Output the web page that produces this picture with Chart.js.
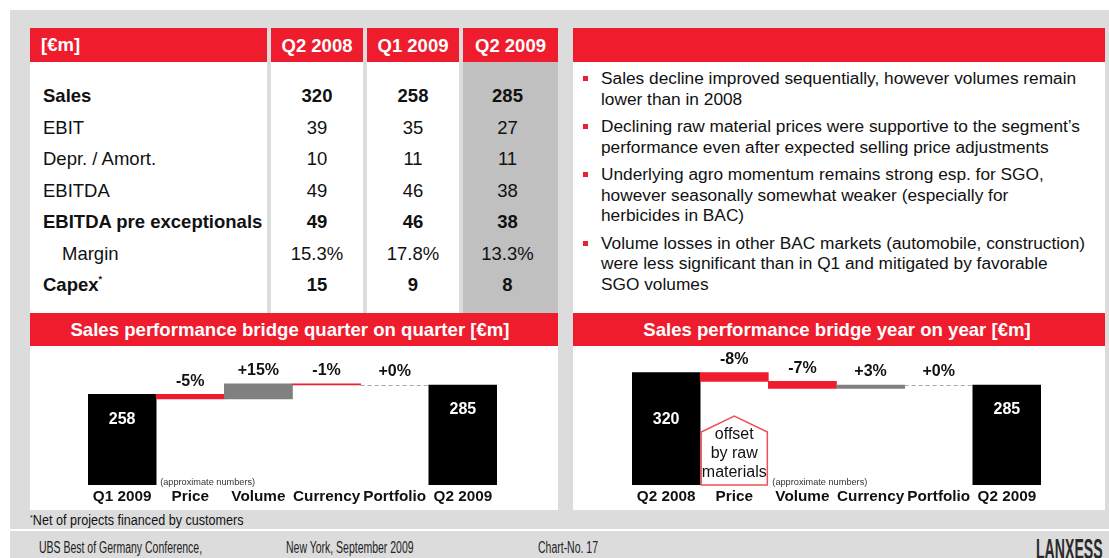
<!DOCTYPE html>
<html>
<head>
<meta charset="utf-8">
<script src="https://cdn.jsdelivr.net/npm/chart.js@4"></script>
<style>
  body { margin: 0; width: 1109px; height: 558px; position: relative; overflow: hidden;
         background: #fff; font-family: "Liberation Sans", Arial, sans-serif; color: #111; }
  .box { position: absolute; }
  .txt { position: absolute; white-space: nowrap; height: 30px; line-height: 30px; }
  canvas { position: absolute; }
</style>
</head>
<body>
<div class="box" style="left:10px;top:10px;width:1099px;height:548px;background:#dcdcdc"></div>
<div class="box" style="left:10px;top:529px;width:1099px;height:2px;background:#fff"></div>
<div id="slide"></div>
<canvas id="qoqChart" width="528" height="164" style="left:30px;top:346px"></canvas>
<canvas id="yoyChart" width="532" height="164" style="left:573px;top:346px"></canvas>

<script>
// ============================================================
// DATA
// ============================================================

const tableColumns = ["Q2 2008", "Q1 2009", "Q2 2009"];
const tableRows = ["Sales", "EBIT", "Depr. / Amort.", "EBITDA", "EBITDA pre exceptionals", "Margin", "Capex"];
const valuesQ2_2008 = ["320", "39", "10", "49", "49", "15.3%", "15"];
const valuesQ1_2009 = ["258", "35", "11", "46", "46", "17.8%", "9"];
const valuesQ2_2009 = ["285", "27", "11", "38", "38", "13.3%", "8"];

const bullets = [
  ["Sales decline improved sequentially, however volumes remain", "lower than in 2008"],
  ["Declining raw material prices were supportive to the segment’s", "performance even after expected selling price adjustments"],
  ["Underlying agro momentum remains strong esp. for SGO,", "however seasonally somewhat weaker (especially for", "herbicides in BAC)"],
  ["Volume losses in other BAC markets (automobile, construction)", "were less significant than in Q1 and mitigated by favorable", "SGO volumes"]
];

// quarter on quarter bridge [€m]
const qoqCategories = ["Q1 2009", "Price", "Volume", "Currency", "Portfolio", "Q2 2009"];
const qoqStart = 258;
const qoqSteps = [-13, 43, -3, 0];
const qoqEnd = 285;
const qoqStepLabels = ["-5%", "+15%", "-1%", "+0%"];

// year on year bridge [€m]
const yoyCategories = ["Q2 2008", "Price", "Volume", "Currency", "Portfolio", "Q2 2009"];
const yoyStart = 320;
const yoySteps = [-25, -20, 10, 0];
const yoyEnd = 285;
const yoyStepLabels = ["-8%", "-7%", "+3%", "+0%"];

const houseNote = ["offset", "by raw", "materials"];


// ============================================================
// SLIDE LAYOUT (table, text, footer)
// ============================================================

const RED = "#ee1c2d";
const FONT = "'Liberation Sans', Arial, sans-serif";
const slide = document.getElementById("slide");

function box(x, y, w, h, bg) {
  const d = document.createElement("div");
  d.className = "box";
  d.style.cssText = `left:${x}px;top:${y}px;width:${w}px;height:${h}px;background:${bg}`;
  slide.appendChild(d);
  return d;
}

function text(str, x, cy, opts = {}) {
  const d = document.createElement("div");
  d.className = "txt";
  d.innerHTML = str;
  d.style.top = (cy - 15) + "px";
  d.style.fontSize = (opts.size || 18.5) + "px";
  if (opts.bold) d.style.fontWeight = "bold";
  if (opts.color) d.style.color = opts.color;
  if (opts.center) {
    d.style.left = (x - 250) + "px";
    d.style.width = "500px";
    d.style.textAlign = "center";
  } else {
    d.style.left = x + "px";
  }
  if (opts.scaleX) {
    d.style.transform = `scaleX(${opts.scaleX})`;
    d.style.transformOrigin = "left center";
  }
  slide.appendChild(d);
  return d;
}

// table cells
const cols = [
  { x: 30, w: 237 },
  { x: 271, w: 92 },
  { x: 367, w: 92 },
  { x: 463, w: 95 }
];

cols.forEach((c, i) => {
  box(c.x, 28, c.w, 34, RED);
  box(c.x, 62, c.w, 251, i === 3 ? "#c0c0c0" : "#fff");
});

text("[€m]", 41, 45, { bold: true, color: "#fff" });
tableColumns.forEach((t, i) => {
  text(t, cols[i + 1].x + cols[i + 1].w / 2, 46, { bold: true, color: "#fff", center: true });
});

const boldRows = [0, 4, 6];
const columnValues = [valuesQ2_2008, valuesQ1_2009, valuesQ2_2009];

tableRows.forEach((label, r) => {
  const cy = 96 + r * 31.5;
  const bold = boldRows.includes(r);
  let lab = label;
  if (label === "Capex") lab = 'Capex<sup style="font-size:9px;vertical-align:9px;line-height:0">*</sup>';
  text(lab, label === "Margin" ? 62 : 43, cy, { bold });
  columnValues.forEach((vals, c) => {
    const col = cols[c + 1];
    text(vals[r], col.x + col.w / 2 - (c === 2 ? 3 : 0), cy, { bold, center: true });
  });
});

// right text panel
box(573, 28, 532, 34, RED);
box(573, 62, 532, 251, "#fff");

let lineY = 78;
bullets.forEach((lines) => {
  box(583, lineY - 2, 5, 5, "#e8202f");
  lines.forEach((ln) => {
    text(ln, 601, lineY, { size: 17.3 });
    lineY += 20.5;
  });
  lineY += 7;
});

// bridge panels
box(30, 313, 528, 33, RED);
box(30, 346, 528, 164, "#fff");
box(573, 313, 532, 33, RED);
box(573, 346, 532, 164, "#fff");
text("Sales performance bridge quarter on quarter [€m]", 290, 330, { bold: true, color: "#fff", center: true, size: 18.6 });
text("Sales performance bridge year on year [€m]", 837, 330, { bold: true, color: "#fff", center: true, size: 18.6 });

// footer
text('<sup style="font-size:8px;vertical-align:5px;line-height:0">*</sup>Net of projects financed by customers', 30, 520, { size: 14, scaleX: 0.9 });
text("UBS Best of Germany Conference,", 39, 548, { size: 16, color: "#222", scaleX: 0.655 });
text("New York, September 2009", 286, 548, { size: 16, color: "#222", scaleX: 0.655 });
text("Chart-No. 17", 538, 548, { size: 16, color: "#222", scaleX: 0.655 });
text("LANXESS", 1036, 549, { size: 30, bold: true, color: "#2a2a2a", scaleX: 0.47 });


// ============================================================
// BRIDGE CHARTS
// ============================================================

const bridgeTextPlugin = {
  id: "bridgeText",
  afterDatasetsDraw(chart, args, opts) {
    const ctx = chart.ctx;
    const meta = chart.getDatasetMeta(0);
    const xs = chart.scales.x;
    const ys = chart.scales.y;
    const zeroY = ys.getPixelForValue(0);
    const n = meta.data.length;

    ctx.save();
    ctx.textAlign = "center";
    ctx.textBaseline = "middle";

    // dashed connector for zero steps
    let run = opts.start;
    opts.steps.forEach((s, i) => {
      run += s;
      if (s === 0) {
        const el = meta.data[i + 1];
        const y = Math.round(ys.getPixelForValue(run)) + 0.5;
        ctx.strokeStyle = "#a8a8a8";
        ctx.lineWidth = 1;
        ctx.setLineDash([4, 3]);
        ctx.beginPath();
        ctx.moveTo(el.x - el.width / 2, y);
        ctx.lineTo(el.x + el.width / 2, y);
        ctx.stroke();
        ctx.setLineDash([]);
      }
    });

    meta.data.forEach((el, i) => {
      const top = Math.min(el.y, el.base);
      if (i === 0 || i === n - 1) {
        ctx.fillStyle = "#fff";
        ctx.font = "bold 16px " + FONT;
        const v = i === 0 ? opts.start : opts.end;
        ctx.fillText(String(v), el.x, top + opts.valueOffsets[i === 0 ? 0 : 1]);
      } else {
        ctx.fillStyle = "#111";
        ctx.font = "bold 16px " + FONT;
        ctx.fillText(opts.stepLabels[i - 1], el.x, top - 13);
      }
      // category label
      ctx.fillStyle = "#111";
      ctx.font = "bold 15.3px " + FONT;
      ctx.fillText(chart.data.labels[i], xs.getPixelForValue(i), zeroY + 12);
    });

    // house shaped note
    if (opts.houseIndex != null) {
      const el = meta.data[opts.houseIndex];
      const l = el.x - el.width / 2 + 1;
      const r = el.x + el.width / 2 - 1;
      ctx.strokeStyle = "#f0505a";
      ctx.lineWidth = 1.5;
      ctx.beginPath();
      ctx.moveTo(l, zeroY);
      ctx.lineTo(l, zeroY - 53);
      ctx.lineTo(el.x, zeroY - 69);
      ctx.lineTo(r, zeroY - 53);
      ctx.lineTo(r, zeroY);
      ctx.closePath();
      ctx.stroke();
      ctx.fillStyle = "#111";
      ctx.font = "16px " + FONT;
      opts.houseLines.forEach((t, k) => {
        ctx.fillText(t, el.x, zeroY - 50 + k * 19);
      });
    }

    // small note
    const nb = meta.data[opts.noteIndex];
    ctx.textAlign = "left";
    ctx.fillStyle = "#333";
    ctx.font = "9.2px " + FONT;
    ctx.fillText("(approximate numbers)", nb.x - nb.width / 2 + 4, zeroY - 3);

    ctx.restore();
  }
};

function bridgeChart(canvasId, cats, start, steps, end, stepLabels, extra) {
  const floats = [[0, start]];
  const colors = ["#000"];
  let run = start;
  steps.forEach((s) => {
    floats.push(s < 0 ? [run + s, run] : [run, run + s]);
    colors.push(s < 0 ? RED : s > 0 ? "#808080" : "rgba(0,0,0,0)");
    run += s;
  });
  floats.push([0, end]);
  colors.push("#000");

  const ctx = document.getElementById(canvasId).getContext("2d");
  new Chart(ctx, {
    type: "bar",
    data: {
      labels: cats,
      datasets: [{
        data: floats,
        backgroundColor: colors,
        borderWidth: 0,
        barPercentage: 1,
        categoryPercentage: 1
      }]
    },
    options: {
      responsive: false,
      animation: false,
      layout: { padding: extra.padding },
      scales: {
        x: { display: false },
        y: { display: false, min: 0, max: 396 }
      },
      plugins: {
        legend: { display: false },
        tooltip: { enabled: false },
        bridgeText: {
          start, steps, end, stepLabels,
          valueOffsets: extra.valueOffsets,
          noteIndex: extra.noteIndex,
          houseIndex: extra.houseIndex,
          houseLines: extra.houseLines
        }
      }
    },
    plugins: [bridgeTextPlugin]
  });
}

bridgeChart("qoqChart", qoqCategories, qoqStart, qoqSteps, qoqEnd, qoqStepLabels, {
  padding: { left: 58, right: 61, top: 0, bottom: 25 },
  valueOffsets: [25.5, 25],
  noteIndex: 1
});

bridgeChart("yoyChart", yoyCategories, yoyStart, yoySteps, yoyEnd, yoyStepLabels, {
  padding: { left: 59, right: 64, top: 0, bottom: 25 },
  valueOffsets: [47, 25],
  noteIndex: 2,
  houseIndex: 1,
  houseLines: houseNote
});
</script>
</body>
</html>
